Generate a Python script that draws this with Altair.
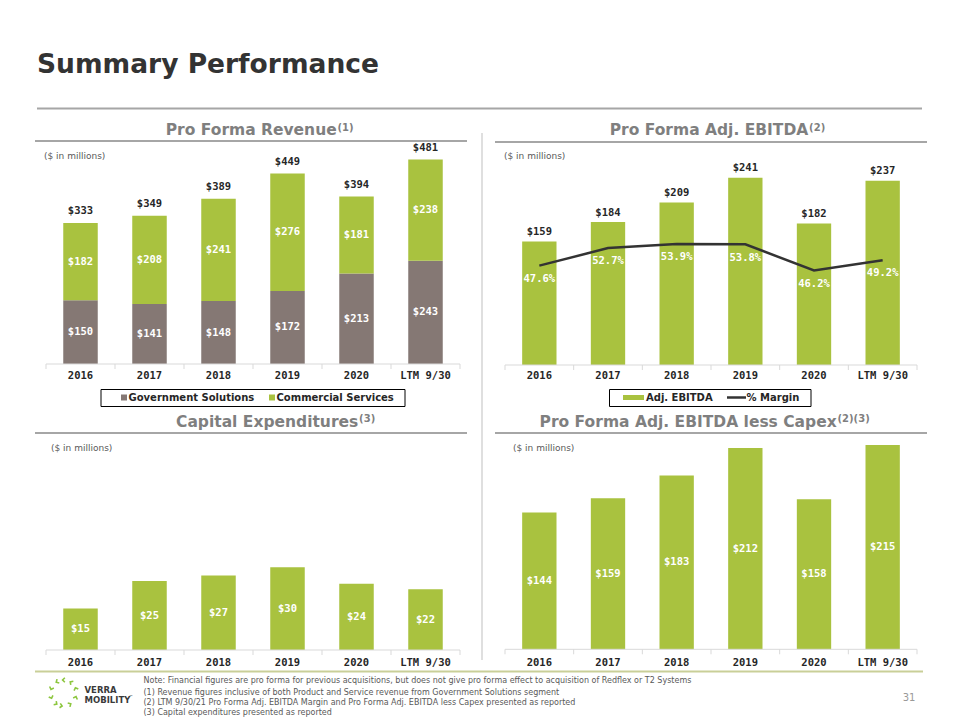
import math
import altair as alt
import pandas as pd

# ---------------- data ----------------
years = ["2016", "2017", "2018", "2019", "2020", "LTM 9/30"]
segments = ["Government Solutions", "Commercial Services"]
gov_solutions = [150, 141, 148, 172, 213, 243]
commercial_services = [182, 208, 241, 276, 181, 238]
revenue_total = [333, 349, 389, 449, 394, 481]
adj_ebitda = [159, 184, 209, 241, 182, 237]
margin_pct = [47.6, 52.7, 53.9, 53.8, 46.2, 49.2]
capex = [15, 25, 27, 30, 24, 22]
ebitda_less_capex = [144, 159, 183, 212, 158, 215]
ebitda_legend = ["Adj. EBITDA", "% Margin"]
notes = [
    "Note: Financial figures are pro forma for previous acquisitions, but does not give pro forma effect to acquisition of Redflex or T2 Systems",
    "(1) Revenue figures inclusive of both Product and Service revenue from Government Solutions segment",
    "(2) LTM 9/30/21 Pro Forma Adj. EBITDA Margin and Pro Forma Adj. EBITDA less Capex presented as reported",
    "(3) Capital expenditures presented as reported",
]

# ---------------- style ----------------
GREEN = "#A9C23F"
GRAY = "#857874"
TXT = "#262626"
TITLE_GRAY = "#7F7F7F"
LINE_GRAY = "#A6A6A6"
AXIS = "#D9D9D9"
MONO = "DejaVu Sans Mono"
SANS = "DejaVu Sans"
M = 8


def px(v):
    return v - M


one = pd.DataFrame({"k": [0]})


def xband(x0, x1):
    return alt.Scale(type="band", domain=years, range=[px(x0), px(x1)],
                     paddingInner=0.5, paddingOuter=0.25)


def yscale(dmax, base, top):
    return alt.Scale(domain=[0, dmax], range=[px(base), px(top)], nice=False, zero=True)


def txt(s, x, y, size, color=TXT, weight="normal", font=SANS, align="left", baseline="middle"):
    return alt.Chart(one).mark_text(text=s, font=font, fontSize=size, fontWeight=weight,
                                    color=color, align=align, baseline=baseline).encode(
        x=alt.value(px(x)), y=alt.value(px(y)))


def hline(x0, x1, y, color, w):
    return alt.Chart(one).mark_rule(color=color, strokeWidth=w).encode(
        x=alt.value(px(x0)), x2=alt.value(px(x1)), y=alt.value(px(y)))


def vline(x, y0, y1, color, w):
    return alt.Chart(one).mark_rule(color=color, strokeWidth=w).encode(
        x=alt.value(px(x)), y=alt.value(px(y0)), y2=alt.value(px(y1)))


def axis_layers(x0, x1, base, label_y):
    tick_df = pd.DataFrame({"i": list(range(len(years) + 1))})
    return [
        hline(x0, x1, base, AXIS, 1),
        alt.Chart(tick_df).mark_rule(color=AXIS, strokeWidth=1).encode(
            x=alt.X("i:Q", scale=alt.Scale(domain=[0, len(years)], range=[px(x0), px(x1)],
                                           nice=False, zero=False), axis=None),
            y=alt.value(px(base)), y2=alt.value(px(base + 5))),
        alt.Chart(pd.DataFrame({"year": years})).mark_text(
            font=MONO, fontWeight="bold", fontSize=10.5, color=TXT, baseline="middle").encode(
            x=alt.X("year:N", scale=xband(x0, x1), axis=None, bandPosition=0.5),
            y=alt.value(px(label_y)), text="year:N"),
    ]


def title_layers(main, sup, end_x, baseline_y):
    return [
        txt(main, end_x, baseline_y, 15.5, TITLE_GRAY, "bold", align="right", baseline="alphabetic"),
        txt(sup, end_x + 0.8, baseline_y - 4.5, 10, TITLE_GRAY, "bold", align="left", baseline="alphabetic"),
    ]


layers = []

# ---------------- slide decorations ----------------
layers.append(txt("Summary Performance", 37, 73, 26.5, "#333333", "bold", baseline="alphabetic"))
layers.append(hline(37, 922, 108.5, LINE_GRAY, 2))
layers.append(vline(482, 133, 660, "#BFBFBF", 1))
layers.append(hline(35, 467, 141, LINE_GRAY, 2))
layers.append(hline(495, 927, 142, LINE_GRAY, 2))
layers.append(hline(35, 467, 433, LINE_GRAY, 2))
layers.append(hline(495, 927, 433, LINE_GRAY, 2))
layers.append(hline(35, 923, 671.5, "#C9CF98", 2))

layers += title_layers("Pro Forma Revenue", "(1)", 336.7, 135)
layers += title_layers("Pro Forma Adj. EBITDA", "(2)", 808.3, 135)
layers += title_layers("Capital Expenditures", "(3)", 358.3, 426.5)
layers += title_layers("Pro Forma Adj. EBITDA less Capex", "(2)(3)", 836.7, 426.5)

for (x, y) in [(44, 155.7), (504, 155.7), (51, 447.7), (513, 447.7)]:
    layers.append(txt("($ in millions)", x, y, 9, "#595959"))

# ---------------- Pro Forma Revenue ----------------
XR = (46, 460)
rev_scale_y = yscale(500, 364, 364 - 0.425 * 500)
rev_df = pd.DataFrame({
    "year": years * 2,
    "segment": [segments[0]] * len(years) + [segments[1]] * len(years),
    "value": gov_solutions + commercial_services,
    "order": [0] * len(years) + [1] * len(years),
})
layers.append(alt.Chart(rev_df).mark_bar().encode(
    x=alt.X("year:N", scale=xband(*XR), axis=None),
    y=alt.Y("value:Q", stack="zero", scale=rev_scale_y, axis=None),
    color=alt.Color("segment:N", scale=alt.Scale(domain=segments, range=[GRAY, GREEN]), legend=None),
    order=alt.Order("order:Q"),
))
rev_lab = pd.DataFrame({
    "year": years * 2,
    "mid": [g / 2 for g in gov_solutions] + [g + c / 2 for g, c in zip(gov_solutions, commercial_services)],
    "label": [f"${v}" for v in gov_solutions + commercial_services],
})
layers.append(alt.Chart(rev_lab).mark_text(font=MONO, fontWeight="bold", fontSize=10.5, color="white").encode(
    x=alt.X("year:N", scale=xband(*XR), axis=None, bandPosition=0.5),
    y=alt.Y("mid:Q", scale=rev_scale_y, axis=None),
    text="label:N"))
rev_tot = pd.DataFrame({"year": years, "total": revenue_total, "label": [f"${v}" for v in revenue_total]})
layers.append(alt.Chart(rev_tot).mark_text(font=MONO, fontWeight="bold", fontSize=10.5, color=TXT, dy=-11.3).encode(
    x=alt.X("year:N", scale=xband(*XR), axis=None, bandPosition=0.5),
    y=alt.Y("total:Q", scale=rev_scale_y, axis=None),
    text="label:N"))
layers += axis_layers(XR[0], XR[1], 364, 376)
# legend
layers.append(alt.Chart(one).mark_rect(fillOpacity=0, stroke="black", strokeWidth=1).encode(
    x=alt.value(px(101)), x2=alt.value(px(405)), y=alt.value(px(389.5)), y2=alt.value(px(406.5))))
for sx, col, name in [(121, GRAY, segments[0]), (269, GREEN, segments[1])]:
    layers.append(alt.Chart(one).mark_rect(color=col).encode(
        x=alt.value(px(sx)), x2=alt.value(px(sx + 6)), y=alt.value(px(394.5)), y2=alt.value(px(400.5))))
    layers.append(txt(name, sx + 7.5, 397.5, 10, TXT, "bold"))

# ---------------- Pro Forma Adj. EBITDA ----------------
XE = (505, 917)
eb_scale_y = yscale(250, 365, 365 - 0.777 * 250)
mg_scale_y = alt.Scale(domain=[0, 60], range=[px(429.4), px(223)], nice=False, zero=True)
eb_df = pd.DataFrame({"year": years, "v": adj_ebitda, "label": [f"${v}" for v in adj_ebitda],
                      "m": margin_pct, "mlabel": [f"{m:.1f}%" for m in margin_pct]})
layers.append(alt.Chart(eb_df).mark_bar(color=GREEN).encode(
    x=alt.X("year:N", scale=xband(*XE), axis=None),
    y=alt.Y("v:Q", scale=eb_scale_y, axis=None)))
layers.append(alt.Chart(eb_df).mark_text(font=MONO, fontWeight="bold", fontSize=10.5, color=TXT, dy=-9.5).encode(
    x=alt.X("year:N", scale=xband(*XE), axis=None, bandPosition=0.5),
    y=alt.Y("v:Q", scale=eb_scale_y, axis=None),
    text="label:N"))
layers.append(alt.Chart(eb_df).mark_line(color="#333333", strokeWidth=2.5).encode(
    x=alt.X("year:N", scale=xband(*XE), axis=None, bandPosition=0.5),
    y=alt.Y("m:Q", scale=mg_scale_y, axis=None)))
layers.append(alt.Chart(eb_df).mark_text(font=MONO, fontWeight="bold", fontSize=10.5, color="white", dy=13.3).encode(
    x=alt.X("year:N", scale=xband(*XE), axis=None, bandPosition=0.5),
    y=alt.Y("m:Q", scale=mg_scale_y, axis=None),
    text="mlabel:N"))
layers += axis_layers(XE[0], XE[1], 365, 376)
layers.append(alt.Chart(one).mark_rect(fillOpacity=0, stroke="black", strokeWidth=1).encode(
    x=alt.value(px(609.5)), x2=alt.value(px(811)), y=alt.value(px(389.5)), y2=alt.value(px(406.5))))
layers.append(alt.Chart(one).mark_rect(color=GREEN).encode(
    x=alt.value(px(623)), x2=alt.value(px(644)), y=alt.value(px(395)), y2=alt.value(px(400))))
layers.append(txt(ebitda_legend[0], 646, 397.5, 10, TXT, "bold"))
layers.append(alt.Chart(one).mark_rule(color="#333333", strokeWidth=2.5).encode(
    x=alt.value(px(727)), x2=alt.value(px(746)), y=alt.value(px(397.5))))
layers.append(txt(ebitda_legend[1], 746.5, 397.5, 10, TXT, "bold"))

# ---------------- Capital Expenditures ----------------
cx_scale_y = yscale(40, 650, 650 - 2.76 * 40)
cx_df = pd.DataFrame({"year": years, "v": capex, "mid": [v / 2 for v in capex], "label": [f"${v}" for v in capex]})
layers.append(alt.Chart(cx_df).mark_bar(color=GREEN).encode(
    x=alt.X("year:N", scale=xband(*XR), axis=None),
    y=alt.Y("v:Q", scale=cx_scale_y, axis=None)))
layers.append(alt.Chart(cx_df).mark_text(font=MONO, fontWeight="bold", fontSize=10.5, color="white").encode(
    x=alt.X("year:N", scale=xband(*XR), axis=None, bandPosition=0.5),
    y=alt.Y("mid:Q", scale=cx_scale_y, axis=None),
    text="label:N"))
layers += axis_layers(XR[0], XR[1], 650, 662.5)

# ---------------- Adj. EBITDA less Capex ----------------
el_scale_y = yscale(250, 649.3, 649.3 - 0.95 * 250)
el_df = pd.DataFrame({"year": years, "v": ebitda_less_capex, "mid": [v / 2 for v in ebitda_less_capex],
                      "label": [f"${v}" for v in ebitda_less_capex]})
layers.append(alt.Chart(el_df).mark_bar(color=GREEN).encode(
    x=alt.X("year:N", scale=xband(*XE), axis=None),
    y=alt.Y("v:Q", scale=el_scale_y, axis=None)))
layers.append(alt.Chart(el_df).mark_text(font=MONO, fontWeight="bold", fontSize=10.5, color="white").encode(
    x=alt.X("year:N", scale=xband(*XE), axis=None, bandPosition=0.5),
    y=alt.Y("mid:Q", scale=el_scale_y, axis=None),
    text="label:N"))
layers += axis_layers(XE[0], XE[1], 649.3, 662.7)

# ---------------- footer ----------------
for s, y in zip(notes, [681, 693, 703, 713]):
    layers.append(txt(s, 143.5, y, 8, "#595959"))
layers.append(txt("31", 909, 698, 10, "#999999", align="center"))
layers.append(txt("VERRA", 84.5, 690, 8.5, "#3A3A3A", "bold"))
layers.append(txt("MOBILITY", 84.5, 700, 8.5, "#3A3A3A", "bold"))
layers.append(txt("\u2122", 129, 697, 4, "#3A3A3A"))
# logo ring of chevrons (decoration)
logo_angles = [200, 240, 270, 305, 340, 20, 60, 100, 125, 160]
logo_df = pd.DataFrame({
    "lx": [px(63.5 + 13 * math.cos(math.radians(a))) for a in logo_angles],
    "ly": [px(693 + 13 * math.sin(math.radians(a))) for a in logo_angles],
    "rot": [(a - 90) % 360 for a in logo_angles],
})
layers.append(alt.Chart(logo_df).mark_point(
    shape="M-0.6,-1L0.4,0L-0.6,1", filled=False, color="#8CC63E", strokeWidth=1.6, size=20, opacity=1).encode(
    x=alt.X("lx:Q", scale=None), y=alt.Y("ly:Q", scale=None), angle=alt.Angle("rot:Q", scale=None)))

chart = alt.layer(*layers).resolve_scale(
    x="independent", y="independent", color="independent", angle="independent"
).properties(
    width=944, height=712, autosize=alt.AutoSizeParams(type="none"), padding=0
).configure_view(stroke=None)

chart.save("out.html", embed_options={"renderer": "svg", "actions": False})
